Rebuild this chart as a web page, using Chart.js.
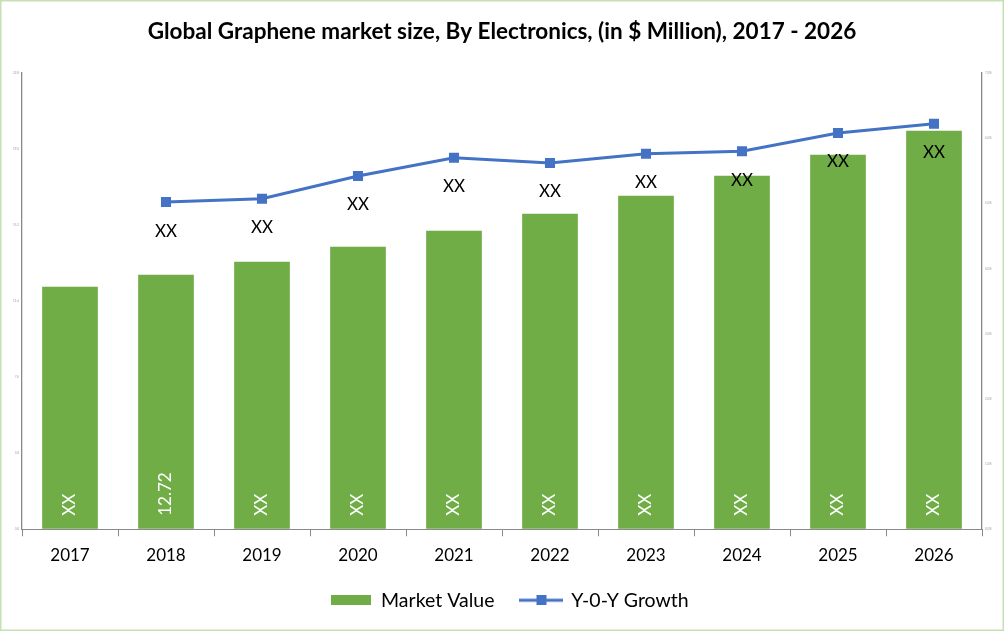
<!DOCTYPE html>
<html>
<head>
<meta charset="utf-8">
<script src="https://cdn.jsdelivr.net/npm/chart.js@4/dist/chart.umd.min.js"></script>
<style>
  html, body { margin: 0; padding: 0; background: #ffffff; }
  #wrap { width: 1004px; height: 631px; position: relative; }
  canvas { display: block; }
</style>
</head>
<body>
<div id="wrap"><canvas id="c" width="1004" height="631"></canvas></div>
<script>
// ---- data ----
const years = ['2017', '2018', '2019', '2020', '2021', '2022', '2023', '2024', '2025', '2026'];
const marketValue = [12.12, 12.72, 13.37, 14.12, 14.92, 15.77, 16.66, 17.66, 18.71, 19.91];
const yoyGrowth = [null, 5.02, 5.07, 5.42, 5.70, 5.62, 5.76, 5.80, 6.08, 6.22];
const barLabels = ['XX', '12.72', 'XX', 'XX', 'XX', 'XX', 'XX', 'XX', 'XX', 'XX'];
const lineLabels = ['', 'XX', 'XX', 'XX', 'XX', 'XX', 'XX', 'XX', 'XX', 'XX'];
const seriesNames = ['Market Value', 'Y-0-Y Growth'];
const titleText = 'Global Graphene market size, By Electronics, (in $ Million), 2017 - 2026';

const GREEN = '#70AD47';
const BLUE = '#4472C4';
const AXIS = '#898989';
const FONT = 'Lato, "Liberation Sans", sans-serif';

// legend icons
function makeBarIcon() {
  const c = document.createElement('canvas');
  c.width = 40; c.height = 10;
  const g = c.getContext('2d');
  g.fillStyle = GREEN; g.fillRect(0, 0, 40, 10);
  return c;
}
function makeLineIcon() {
  const c = document.createElement('canvas');
  c.width = 44; c.height = 10;
  const g = c.getContext('2d');
  g.strokeStyle = BLUE; g.lineWidth = 3;
  g.beginPath(); g.moveTo(0, 5); g.lineTo(44, 5); g.stroke();
  g.fillStyle = BLUE; g.fillRect(17, 0, 10, 10);
  return c;
}
const barIcon = makeBarIcon();
const lineIcon = makeLineIcon();

const labelPlugin = {
  id: 'valueLabels',
  afterDatasetsDraw(chart) {
    const ctx = chart.ctx;
    const barMeta = chart.getDatasetMeta(0);
    ctx.save();
    ctx.font = '17px ' + FONT;
    ctx.fillStyle = '#ffffff';
    barMeta.data.forEach((el, i) => {
      const p = el.getProps(['x', 'y', 'base'], true);
      ctx.save();
      ctx.translate(p.x, p.base - 13);
      ctx.rotate(-Math.PI / 2);
      ctx.textAlign = 'left';
      ctx.textBaseline = 'middle';
      ctx.fillText(barLabels[i], 0, 0);
      ctx.restore();
    });
    const lineMeta = chart.getDatasetMeta(1);
    ctx.fillStyle = '#000000';
    ctx.textAlign = 'center';
    ctx.textBaseline = 'middle';
    lineMeta.data.forEach((el, i) => {
      if (yoyGrowth[i] === null) return;
      const p = el.getProps(['x', 'y'], true);
      ctx.fillText(lineLabels[i], p.x, p.y + 29);
    });
    ctx.restore();
  }
};

const borderPlugin = {
  id: 'outerBorder',
  afterLayout(chart) {
    // nudge the centred legend slightly to the right, as in the reference
    if (chart.legend) { chart.legend.left += 8; chart.legend.right += 8; }
  },
  beforeDraw(chart) {
    const ctx = chart.ctx;
    ctx.save();
    ctx.fillStyle = '#ffffff';
    ctx.fillRect(0, 0, chart.width, chart.height);
    ctx.restore();
  },
  afterDraw(chart) {
    const ctx = chart.ctx;
    ctx.save();
    ctx.strokeStyle = '#C5E0B4';
    ctx.lineWidth = 1.5;
    ctx.strokeRect(0.75, 0.75, chart.width - 1.5, chart.height - 1.5);
    ctx.restore();
  }
};

new Chart(document.getElementById('c'), {
  type: 'bar',
  data: {
    labels: years,
    datasets: [
      {
        type: 'bar',
        label: seriesNames[0],
        data: marketValue,
        backgroundColor: GREEN,
        yAxisID: 'y',
        categoryPercentage: 1.0,
        barPercentage: 0.58,
        order: 2
      },
      {
        type: 'line',
        label: seriesNames[1],
        data: yoyGrowth,
        borderColor: BLUE,
        backgroundColor: BLUE,
        borderWidth: 3,
        pointStyle: 'rect',
        pointRadius: 5,
        pointBackgroundColor: BLUE,
        pointBorderColor: BLUE,
        tension: 0,
        yAxisID: 'y1',
        order: 1
      }
    ]
  },
  options: {
    responsive: false,
    animation: false,
    layout: { padding: { top: 0, bottom: 11, left: 0, right: 0 } },
    plugins: {
      title: {
        display: true,
        text: titleText,
        color: '#000000',
        font: { family: FONT, size: 22.5, weight: 'bold' },
        padding: { top: 18, bottom: 28 }
      },
      legend: {
        position: 'bottom',
        labels: {
          usePointStyle: true,
          pointStyleWidth: 40,
          color: '#000000',
          padding: 27,
          font: { family: FONT, size: 19.5 },
          generateLabels() {
            return [
              { text: seriesNames[0], pointStyle: barIcon, fillStyle: GREEN, strokeStyle: GREEN, lineWidth: 0, datasetIndex: 0, fontColor: '#000' },
              { text: seriesNames[1], pointStyle: lineIcon, fillStyle: BLUE, strokeStyle: BLUE, lineWidth: 0, datasetIndex: 1, fontColor: '#000' }
            ];
          }
        }
      },
      tooltip: { enabled: false }
    },
    scales: {
      x: {
        offset: true,
        grid: { display: true, drawOnChartArea: false, drawTicks: true, tickLength: 7, color: AXIS, offset: true },
        border: { display: true, color: AXIS, width: 1 },
        ticks: { color: '#000000', font: { family: FONT, size: 17 }, padding: 9, maxRotation: 0 },
        afterFit(scale) { scale.height = 34.25; }
      },
      y: {
        position: 'left',
        min: 0,
        max: 22.8,
        ticks: { stepSize: 3.8, color: '#9a9a9a', font: { family: FONT, size: 3 }, padding: 3,
                 callback: (v) => Number(v).toFixed(1) },
        grid: { drawOnChartArea: false, drawTicks: false },
        border: { display: true, color: AXIS, width: 1.3 },
        afterFit(scale) { scale.width = 22; }
      },
      y1: {
        position: 'right',
        min: 0,
        max: 7,
        ticks: { stepSize: 1, color: '#9a9a9a', font: { family: FONT, size: 3 }, padding: 3,
                 callback: (v) => Number(v).toFixed(1) + '%' },
        grid: { drawOnChartArea: false, drawTicks: false },
        border: { display: true, color: AXIS, width: 1.3 },
        afterFit(scale) { scale.width = 22; }
      }
    }
  },
  plugins: [labelPlugin, borderPlugin]
});
</script>
</body>
</html>
